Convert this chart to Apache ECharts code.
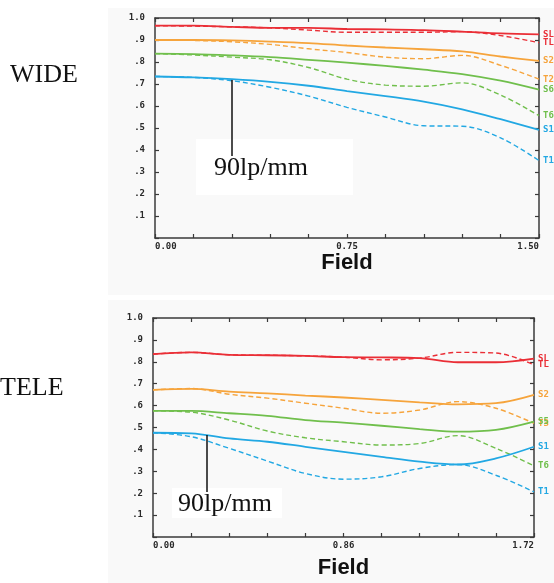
<!DOCTYPE html>
<html>
<head>
<meta charset="utf-8">
<script src="https://cdn.jsdelivr.net/npm/echarts@6/dist/echarts.min.js"></script>
<style>
  html, body { margin: 0; padding: 0; background: #ffffff; }
  #chart { width: 554px; height: 583px; }
</style>
</head>
<body>
<div id="chart"></div>
<script>
// field positions (x) for each chart
const fieldWide = [0, 0.15, 0.3, 0.45, 0.6, 0.75, 0.9, 1.05, 1.2, 1.35, 1.5]
const fieldTele = [0, 0.172, 0.344, 0.516, 0.688, 0.86, 1.032, 1.204, 1.376, 1.548, 1.72]

// WIDE, 90lp/mm  (S = solid, T = dashed)
const wideRedS    = [0.965, 0.965, 0.960, 0.955, 0.955, 0.950, 0.948, 0.945, 0.938, 0.930, 0.926]
const wideRedT    = [0.965, 0.963, 0.960, 0.955, 0.945, 0.935, 0.935, 0.935, 0.938, 0.920, 0.888]
const wideOrangeS = [0.900, 0.900, 0.898, 0.893, 0.886, 0.875, 0.866, 0.858, 0.848, 0.825, 0.805]
const wideOrangeT = [0.900, 0.898, 0.892, 0.880, 0.860, 0.843, 0.822, 0.815, 0.830, 0.785, 0.722]
const wideGreenS  = [0.838, 0.836, 0.830, 0.822, 0.810, 0.797, 0.782, 0.765, 0.745, 0.715, 0.674]
const wideGreenT  = [0.838, 0.832, 0.822, 0.810, 0.775, 0.722, 0.695, 0.690, 0.705, 0.650, 0.556]
const wideBlueS   = [0.734, 0.730, 0.722, 0.710, 0.692, 0.668, 0.645, 0.620, 0.585, 0.540, 0.492]
const wideBlueT   = [0.734, 0.730, 0.715, 0.685, 0.645, 0.594, 0.550, 0.510, 0.508, 0.455, 0.352]

// TELE, 90lp/mm
const teleRedS    = [0.835, 0.843, 0.832, 0.830, 0.827, 0.821, 0.820, 0.817, 0.798, 0.798, 0.815]
const teleRedT    = [0.835, 0.843, 0.832, 0.830, 0.827, 0.821, 0.809, 0.817, 0.843, 0.840, 0.786]
const teleOrangeS = [0.672, 0.676, 0.664, 0.656, 0.646, 0.637, 0.626, 0.615, 0.606, 0.611, 0.649]
const teleOrangeT = [0.672, 0.678, 0.652, 0.634, 0.611, 0.588, 0.565, 0.580, 0.618, 0.588, 0.519]
const teleGreenS  = [0.576, 0.576, 0.565, 0.553, 0.534, 0.522, 0.508, 0.493, 0.481, 0.489, 0.527]
const teleGreenT  = [0.576, 0.570, 0.534, 0.484, 0.453, 0.435, 0.420, 0.427, 0.463, 0.405, 0.325]
const teleBlueS   = [0.476, 0.473, 0.450, 0.435, 0.412, 0.389, 0.366, 0.344, 0.331, 0.359, 0.412]
const teleBlueT   = [0.476, 0.458, 0.405, 0.347, 0.290, 0.264, 0.275, 0.313, 0.331, 0.282, 0.206]

const wideEndLabels = ['SL', 'TL', 'S2', 'T2', 'S6', 'T6', 'S1', 'T1']
const teleEndLabels = ['SL', 'TL', 'S2', 'T3', 'S5', 'T6', 'S1', 'T1']

const RED = '#ea2e36'
const ORANGE = '#f6a43c'
const GREEN = '#70bf4c'
const BLUE = '#22a8e3'
const AXIS = '#3a3a3a'

const chart = echarts.init(document.getElementById('chart'), null, { renderer: 'canvas' })

const pairs = (xs, ys) => xs.map((x, i) => [x, ys[i]])

const makeSeries = (gridIdx, xs, list, labels) =>
  list.map((ys, i) => {
    const color = [RED, RED, ORANGE, ORANGE, GREEN, GREEN, BLUE, BLUE][i]
    const dashed = i % 2 === 1
    return {
      type: 'line',
      xAxisIndex: gridIdx * 2,
      yAxisIndex: gridIdx * 2,
      data: pairs(xs, ys),
      smooth: 0.35,
      symbol: 'none',
      silent: true,
      lineStyle: {
        color: color,
        width: dashed ? 1.4 : 1.8,
        type: dashed ? [5, 3] : 'solid',
      },
      endLabel: {
        show: true,
        formatter: () => labels[i],
        color: color,
        fontSize: 9,
        fontWeight: 'bold',
        fontFamily: 'DejaVu Sans Mono',
        distance: 4,
      },
      z: dashed ? 3 : 4,
    }
  })

const yLabel = (v) => {
  const r = Math.round(v * 10)
  if (r === 0) return ''
  if (r === 10) return '1.0'
  return '.' + r
}

const makeX = (gridIdx, max, mid) => [
  {
    gridIndex: gridIdx,
    type: 'value',
    min: 0,
    max: max,
    interval: max / 10,
    name: 'Field',
    nameLocation: 'middle',
    nameGap: gridIdx === 0 ? 13 : 20,
    nameTextStyle: {
      fontFamily: 'Liberation Sans',
      fontWeight: 'bold',
      fontSize: 22,
      color: '#111',
    },
    axisLine: { show: true, onZero: false, lineStyle: { color: AXIS, width: 1.5 } },
    axisTick: { show: true, inside: true, length: 4, lineStyle: { color: AXIS, width: 1.2 } },
    splitLine: { show: false },
    axisLabel: {
      margin: 4,
      fontSize: 9,
      fontWeight: 'bold',
      fontFamily: 'DejaVu Sans Mono',
      color: '#2a2a2a',
      alignMinLabel: 'left',
      alignMaxLabel: 'right',
      formatter: (v) => {
        if (Math.abs(v) < 1e-6) return '0.00'
        if (Math.abs(v - mid) < 1e-6) return mid.toFixed(2)
        if (Math.abs(v - max) < 1e-6) return max.toFixed(2)
        return ''
      },
    },
  },
  {
    gridIndex: gridIdx,
    type: 'value',
    position: 'top',
    min: 0,
    max: max,
    interval: max / 10,
    axisLine: { show: true, onZero: false, lineStyle: { color: AXIS, width: 1.5 } },
    axisTick: { show: true, inside: true, length: 4, lineStyle: { color: AXIS, width: 1.2 } },
    axisLabel: { show: false },
    splitLine: { show: false },
  },
]

const makeY = (gridIdx) => [
  {
    gridIndex: gridIdx,
    type: 'value',
    min: 0,
    max: 1,
    interval: 0.1,
    axisLine: { show: true, onZero: false, lineStyle: { color: AXIS, width: 1.5 } },
    axisTick: { show: true, inside: true, length: 4, lineStyle: { color: AXIS, width: 1.2 } },
    splitLine: { show: false },
    axisLabel: {
      margin: 10,
      fontSize: 9,
      fontWeight: 'bold',
      fontFamily: 'DejaVu Sans Mono',
      color: '#2a2a2a',
      formatter: yLabel,
    },
  },
  {
    gridIndex: gridIdx,
    type: 'value',
    position: 'right',
    min: 0,
    max: 1,
    interval: 0.1,
    axisLine: { show: true, onZero: false, lineStyle: { color: AXIS, width: 1.5 } },
    axisTick: { show: true, inside: true, length: 4, lineStyle: { color: AXIS, width: 1.2 } },
    axisLabel: { show: false },
    splitLine: { show: false },
  },
]

const serifText = (x, y, text) => ({
  type: 'text',
  left: x,
  top: y,
  z: 20,
  style: {
    text: text,
    fill: '#111',
    font: '26px "Liberation Serif", "DejaVu Serif", serif',
  },
})

const option = {
  backgroundColor: '#ffffff',
  animation: false,
  grid: [
    { left: 155, right: 15, top: 18, height: 220, show: true, backgroundColor: '#f9f9f9', borderWidth: 0 },
    { left: 153, right: 20, top: 318, height: 219, show: true, backgroundColor: '#f9f9f9', borderWidth: 0 },
  ],
  xAxis: [...makeX(0, 1.5, 0.75), ...makeX(1, 1.72, 0.86)],
  yAxis: [...makeY(0), ...makeY(1)],
  series: [
    ...makeSeries(0, fieldWide,
      [wideRedS, wideRedT, wideOrangeS, wideOrangeT, wideGreenS, wideGreenT, wideBlueS, wideBlueT],
      wideEndLabels),
    ...makeSeries(1, fieldTele,
      [teleRedS, teleRedT, teleOrangeS, teleOrangeT, teleGreenS, teleGreenT, teleBlueS, teleBlueT],
      teleEndLabels),
  ],
  graphic: [
    // light panels behind the plots
    { type: 'rect', shape: { x: 108, y: 8, width: 446, height: 287 }, style: { fill: '#f9f9f9' }, z: -10, silent: true },
    { type: 'rect', shape: { x: 108, y: 300, width: 446, height: 283 }, style: { fill: '#f9f9f9' }, z: -10, silent: true },
    // white boxes behind the annotation text
    { type: 'rect', shape: { x: 196, y: 139, width: 157, height: 56 }, style: { fill: '#ffffff' }, z: 1, silent: true },
    { type: 'rect', shape: { x: 172, y: 488, width: 110, height: 30 }, style: { fill: '#ffffff' }, z: 1, silent: true },
    // 90lp/mm pointers
    { type: 'line', shape: { x1: 232, y1: 80, x2: 232, y2: 156 }, style: { stroke: '#111', lineWidth: 1.5 }, z: 20 },
    { type: 'line', shape: { x1: 207, y1: 435, x2: 207, y2: 492 }, style: { stroke: '#111', lineWidth: 1.5 }, z: 20 },
    serifText(214, 155, '90lp/mm'),
    serifText(178, 491, '90lp/mm'),
    serifText(10, 62, 'WIDE'),
    serifText(0, 375, 'TELE'),
  ],
}

chart.setOption(option)
</script>
</body>
</html>
